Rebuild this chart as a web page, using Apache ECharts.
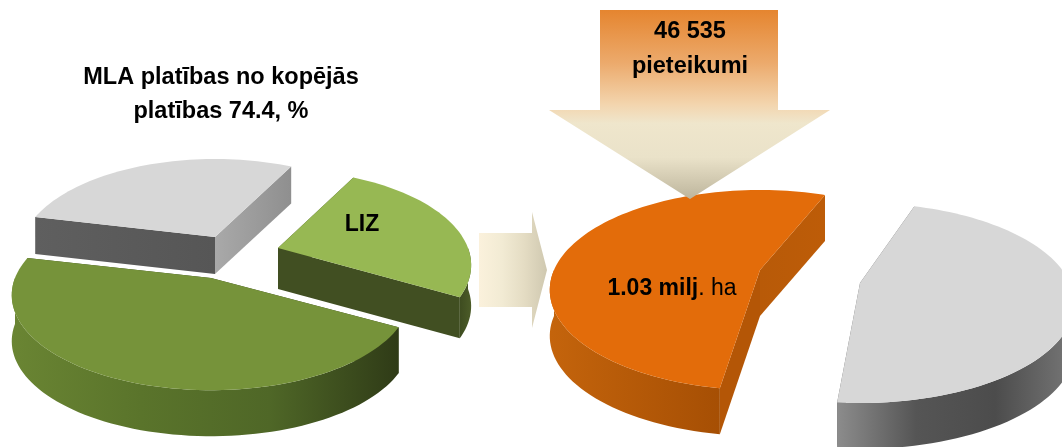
<!DOCTYPE html>
<html lang="lv">
<head>
    <meta charset="UTF-8">
    <title>MLA platības</title>
    <script src="https://cdn.jsdelivr.net/npm/echarts@6/dist/echarts.min.js"></script>
</head>
<style>
    body{ margin:0; background:#fff; }
    #chart{ width:1062px; height:447px; }
</style>
<body>
    <div id="chart"></div>
    <script>
        // shares of each pie, %
        var leftNames=['Pārējā','LIZ','Pārējā MLA'];
        var leftShares=[29,25.5,45.5];
        var rightNames=['Pieteikta','Nepieteikta'];
        var rightShares=[53.6,46.4];
        var titleLines=['MLA platības no kopējās','platības 74.4, %'];
        var arrowLines=['46 535','pieteikumi'];

        var FONT='"Liberation Sans", Arial, sans-serif';
        function hgrad(stops){
            return {type:'linear',x:0,y:0,x2:1,y2:0,colorStops:stops.map(function(c,i){
                return {offset:i/(stops.length-1),color:c};
            })};
        }
        function vgrad(stops){
            return {type:'linear',x:0,y:0,x2:0,y2:1,colorStops:stops.map(function(s){
                return {offset:s[0],color:s[1]};
            })};
        }

        // each slice is pulled out on its own, so each has its own apex
        var leftLook=[
            {cx:215,cy:237,rx:192,ry:92,p:0.18,depth:37,top:'#d7d7d7',
             faceEnd:hgrad(['#a9a9a9','#8f8f8f']),faceStart:hgrad(['#5f5f5f','#565656']),wall:'#888'},
            {cx:278,cy:248,rx:190,ry:92,p:0.18,depth:41,top:'#97b853',
             faceEnd:'#414f22',faceStart:hgrad(['#414f22','#45522a']),wall:hgrad(['#3e4c20','#4c5c28'])},
            {cx:211,cy:278,rx:196,ry:92,p:0.18,depth:46,top:'#76933a',
             faceEnd:'#33401a',faceStart:'#33401a',wall:hgrad(['#6a8533','#5a742b','#4f6727','#2f3b17'])}
        ];
        var rightLook=[
            {cx:760,cy:270,rx:206,ry:96,p:0.2,depth:46,top:'#e36c0a',
             faceEnd:hgrad(['#b85a08','#bd5c08']),faceStart:'#b45606',wall:hgrad(['#c4640c','#a64f04'])},
            {cx:860,cy:283,rx:210,ry:96,p:0.2,depth:46,top:'#d7d7d7',turn:-4,
             faceEnd:'#666',faceStart:'#666',wall:hgrad(['#8c8c8c','#555','#4c4c4c','#777'])}
        ];
        var leftStart=193, rightStart=99;

        function project(g,deg){
            var t=deg*Math.PI/180, k=1/(1-g.p*Math.sin(t));
            return [g.cx+g.rx*Math.cos(t)*k, g.cy+g.ry*Math.sin(t)*k];
        }
        function arc(g,a,b){
            var pts=[];
            for(var d=a;d<b;d+=2) pts.push(project(g,d));
            pts.push(project(g,b));
            return pts;
        }
        function drop(pts,depth){
            return pts.map(function(q){ return [q[0],q[1]+depth]; }).reverse();
        }
        function poly(pts,fill){
            return {type:'polygon',shape:{points:pts},style:{fill:fill}};
        }

        function sliceRenderer(shares,looks,start,labels){
            return function(params,api){
                var i=params.dataIndex, g=looks[i];
                var before=0;
                for(var j=0;j<i;j++) before+=shares[j];
                var a=start+before*3.6+(g.turn||0), b=a+api.value(0)*3.6;
                var apex=[g.cx,g.cy], pa=project(g,a), pb=project(g,b);
                var kids=[];
                // cut faces
                kids.push(poly([apex,pa].concat(drop([apex,pa],g.depth)),g.faceStart));
                kids.push(poly([apex,pb].concat(drop([apex,pb],g.depth)),g.faceEnd));
                // outer wall, only the part on the near half of the ellipse
                [[0,180],[360,540]].forEach(function(w){
                    var lo=Math.max(a,w[0]), hi=Math.min(b,w[1]);
                    if(hi>lo){
                        var top=arc(g,lo,hi);
                        kids.push(poly(top.concat(drop(top,g.depth)),g.wall));
                    }
                });
                kids.push(poly([apex].concat(arc(g,a,b)),g.top));
                if(labels[i]){
                    kids.push({type:'text',style:Object.assign({
                        textAlign:'center',textVerticalAlign:'middle',fill:'#000'
                    },labels[i])});
                }
                return {type:'group',children:kids};
            };
        }

        var leftLabels=[null,{x:362,y:225,text:'LIZ',font:'bold 23px '+FONT},null];
        var rightLabels=[{x:672,y:289,text:'{b|1.03 milj}{r|. ha}',rich:{
            b:{font:'bold 23px '+FONT,fill:'#000'},r:{font:'23px '+FONT,fill:'#000'}
        }},null];

        function wrap(a){ return a.map(function(v){ return [v]; }); }

        var chart=echarts.init(document.getElementById('chart'),null,{renderer:'canvas'});
        chart.setOption({
            backgroundColor:'#fff',
            animation:false,
            series:[
                {type:'custom',name:'MLA',coordinateSystem:'none',silent:true,clip:false,
                 data:wrap(leftShares),renderItem:sliceRenderer(leftShares,leftLook,leftStart,leftLabels)},
                {type:'custom',name:'Pieteikumi',coordinateSystem:'none',silent:true,clip:false,
                 data:wrap(rightShares),renderItem:sliceRenderer(rightShares,rightLook,rightStart,rightLabels)}
            ],
            graphic:[
                {type:'text',z:20,x:221,y:95,style:{
                    text:titleLines.join('\n'),font:'bold 23.5px '+FONT,lineHeight:34,
                    textAlign:'center',textVerticalAlign:'middle',fill:'#000'}},
                // big arrow
                {type:'polygon',z:10,shape:{points:[[600,10],[778,10],[778,110],[830,110],[690,199],[549,110],[600,110]]},
                 style:{fill:vgrad([[0,'#e5852f'],[0.28,'#ecaa6c'],[0.5,'#f3d5ae'],[0.6,'#efe6cc'],[0.78,'#eae2c9'],[1,'#bdb59c']])}},
                {type:'text',z:20,x:690,y:49,style:{
                    text:arrowLines.join('\n'),font:'bold 23.5px '+FONT,lineHeight:35,
                    textAlign:'center',textVerticalAlign:'middle',fill:'#000'}},
                // small arrow
                {type:'polygon',z:10,shape:{points:[[479,233],[532,233],[532,212],[547,270],[532,328],[532,307],[479,307]]},
                 style:{fill:hgrad(['#fbf1dc','#f2ebd4','#e4dcc3','#cfc8b0'])}}
            ]
        });
    </script>
</body>
</html>
